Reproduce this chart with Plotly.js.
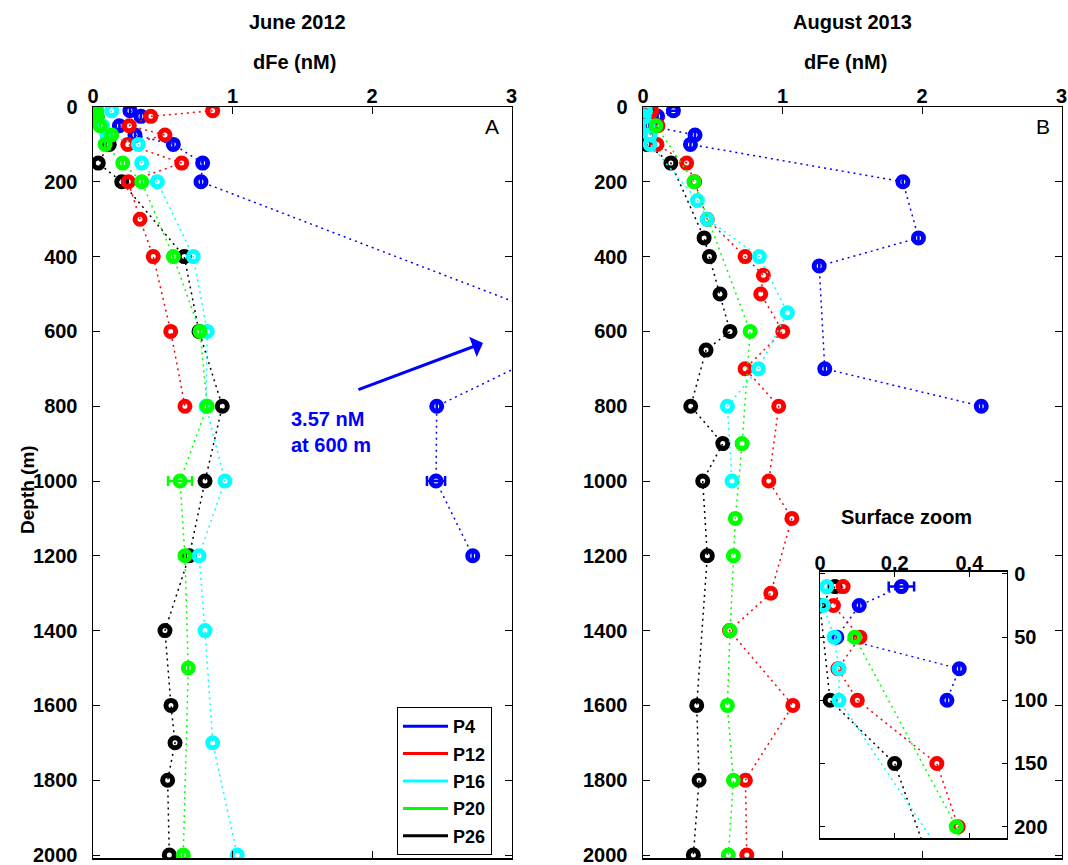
<!DOCTYPE html>
<html>
<head>
<meta charset="utf-8">
<script src="https://cdn.plot.ly/plotly-3.0.1.min.js"></script>
<style>
  html, body { margin: 0; padding: 0; background: #fff; }
  #chart { width: 1068px; height: 865px; }
</style>
</head>
<body>
<div id="chart"></div>
<script>
// ---- Station names and colours ----
const stations = ['P4', 'P12', 'P16', 'P20', 'P26'];
const colors = { P4: '#0000ff', P12: '#ff0000', P16: '#00ffff', P20: '#00ff00', P26: '#000000' };

// ---- June 2012: depth (m) and dissolved Fe (nM) ----
const depthJun_P4  = [10, 25, 50, 75, 100, 150, 200, 600, 800, 1000, 1200];
const feJun_P4     = [0.265, 0.344, 0.189, 0.301, 0.576, 0.786, 0.774, 3.57, 2.464, 2.459, 2.722];
const errJun_P4    = [0, 0, 0, 0, 0, 0, 0, 0, 0, 0.065, 0];

const depthJun_P12 = [10, 25, 50, 75, 100, 150, 200, 300, 400, 600, 800];
const feJun_P12    = [0.858, 0.414, 0.26, 0.516, 0.249, 0.636, 0.253, 0.337, 0.432, 0.557, 0.659];

const depthJun_P16 = [10, 50, 75, 100, 150, 200, 400, 600, 800, 1000, 1200, 1400, 1700, 2000];
const feJun_P16    = [0.134, 0.07, 0.1, 0.325, 0.349, 0.461, 0.719, 0.819, 0.81, 0.946, 0.76, 0.803, 0.858, 1.034];

const depthJun_P20 = [10, 25, 50, 75, 100, 150, 200, 400, 600, 800, 1000, 1200, 1500, 2000];
const feJun_P20    = [0.027, 0.031, 0.05, 0.134, 0.086, 0.213, 0.349, 0.576, 0.767, 0.819, 0.624, 0.659, 0.683, 0.647];
const errJun_P20   = [0, 0, 0, 0, 0, 0, 0, 0, 0, 0, 0.086, 0, 0, 0];

const depthJun_P26 = [10, 25, 50, 100, 150, 200, 400, 600, 800, 1000, 1200, 1400, 1600, 1700, 1800, 2000];
const feJun_P26    = [0.02, 0.03, 0.06, 0.117, 0.038, 0.206, 0.654, 0.76, 0.927, 0.803, 0.69, 0.516, 0.559, 0.588, 0.535, 0.547];

// ---- August 2013: depth (m) and dissolved Fe (nM) ----
const depthAug_P4  = [10, 25, 50, 75, 100, 200, 350, 425, 700, 800];
const feAug_P4     = [0.218, 0.105, 0.045, 0.373, 0.34, 1.863, 1.975, 1.263, 1.303, 2.425];
const errAug_P4    = [0.034, 0, 0, 0, 0, 0, 0, 0, 0, 0];

const depthAug_P12 = [10, 25, 50, 75, 100, 150, 200, 300, 400, 450, 500, 600, 700, 800, 1000, 1100, 1300, 1400, 1600, 1800, 2000];
const feAug_P12    = [0.062, 0.036, 0.107, 0.048, 0.1, 0.313, 0.37, 0.461, 0.732, 0.863, 0.844, 1.002, 0.732, 0.973, 0.902, 1.067, 0.916, 0.62, 1.074, 0.734, 0.744];

const depthAug_P16 = [10, 25, 50, 75, 100, 250, 300, 400, 550, 700, 800, 1000];
const feAug_P16    = [0.018, 0.009, 0.038, 0.051, 0.051, 0.39, 0.46, 0.834, 1.035, 0.827, 0.605, 0.638];

const depthAug_P20 = [50, 200, 600, 900, 1100, 1200, 1400, 1600, 1800, 2000];
const feAug_P20    = [0.093, 0.365, 0.768, 0.71, 0.662, 0.648, 0.624, 0.605, 0.648, 0.612];

const depthAug_P26 = [10, 25, 100, 150, 350, 400, 500, 600, 650, 800, 900, 1000, 1200, 1600, 1800, 2000];
const feAug_P26    = [0.04, 0.0, 0.027, 0.2, 0.438, 0.476, 0.552, 0.624, 0.452, 0.342, 0.572, 0.428, 0.461, 0.385, 0.402, 0.361];

// The surface zoom shows the upper water column; P4 is only shown down to 100 m there
const zoomP4Depth = 100;

// ---- Axis ticks ----
const feTicks = [0, 1, 2, 3];
const depthTicks = [0, 200, 400, 600, 800, 1000, 1200, 1400, 1600, 1800, 2000];
const zoomFeTicks = [0, 0.2, 0.4];
const zoomFeLabels = ['0', '0.2', '0.4'];
const zoomDepthTicks = [0, 50, 100, 150, 200];

// ---- Figure geometry (pixels in a 1068 x 865 page) ----
const W = 1068, H = 865;
const px = v => v / W;
const py = v => 1 - v / H;

const FAMILY = 'Liberation Sans, Arial, sans-serif';
const boldFont = (size, color) => ({ family: FAMILY, size: size, color: color || '#000', weight: 'bold' });
const tickFont = boldFont(20);

function profile(fe, depth, name, xa, ya, err) {
  const t = {
    type: 'scatter', mode: 'lines+markers',
    x: fe, y: depth, xaxis: xa, yaxis: ya,
    name: name, showlegend: false, hoverinfo: 'skip',
    line: { color: colors[name], width: 1.5, dash: '2px,4px' },
    marker: { symbol: 'circle-open', size: 10, color: colors[name], line: { color: colors[name], width: 5 } }
  };
  if (err) {
    t.error_x = { type: 'data', array: err, visible: true, color: colors[name], thickness: 2.5, width: 5 };
  }
  return t;
}

const upTo = (arr, depth, maxDepth) => arr.filter((_, i) => depth[i] <= maxDepth);

const traces = [];
// June 2012 panel (drawing order: P26 first, P20 last)
traces.push(profile(feJun_P26, depthJun_P26, 'P26', 'x', 'y'));
traces.push(profile(feJun_P4,  depthJun_P4,  'P4',  'x', 'y', errJun_P4));
traces.push(profile(feJun_P12, depthJun_P12, 'P12', 'x', 'y'));
traces.push(profile(feJun_P16, depthJun_P16, 'P16', 'x', 'y'));
traces.push(profile(feJun_P20, depthJun_P20, 'P20', 'x', 'y', errJun_P20));
// August 2013 panel
traces.push(profile(feAug_P26, depthAug_P26, 'P26', 'x2', 'y2'));
traces.push(profile(feAug_P4,  depthAug_P4,  'P4',  'x2', 'y2', errAug_P4));
traces.push(profile(feAug_P12, depthAug_P12, 'P12', 'x2', 'y2'));
traces.push(profile(feAug_P16, depthAug_P16, 'P16', 'x2', 'y2'));
traces.push(profile(feAug_P20, depthAug_P20, 'P20', 'x2', 'y2'));
// August 2013 surface zoom
traces.push(profile(feAug_P26, depthAug_P26, 'P26', 'x3', 'y3'));
traces.push(profile(upTo(feAug_P4, depthAug_P4, zoomP4Depth), upTo(depthAug_P4, depthAug_P4, zoomP4Depth), 'P4', 'x3', 'y3',
                    upTo(errAug_P4, depthAug_P4, zoomP4Depth)));
traces.push(profile(feAug_P12, depthAug_P12, 'P12', 'x3', 'y3'));
traces.push(profile(feAug_P16, depthAug_P16, 'P16', 'x3', 'y3'));
traces.push(profile(feAug_P20, depthAug_P20, 'P20', 'x3', 'y3'));
// Legend keys: solid lines, one per station
stations.forEach(s => {
  traces.push({
    type: 'scatter', mode: 'lines', x: [null], y: [null], xaxis: 'x', yaxis: 'y',
    name: s, legendgroup: s, showlegend: true,
    line: { color: colors[s], width: 3 }
  });
});

function axisCommon(extra) {
  return Object.assign({
    showgrid: false, zeroline: false, showline: true, linecolor: '#000', linewidth: 1.5,
    ticks: 'inside', ticklen: 7, tickwidth: 1, tickcolor: '#000', mirror: 'allticks',
    tickfont: tickFont, fixedrange: true, automargin: false, ticklabeloverflow: 'allow'
  }, extra);
}

const yDom = [py(858), py(107)];
const centered = (text, x, y, font, extra) => Object.assign({
  text: text, xref: 'paper', yref: 'paper', x: px(x), y: py(y),
  xanchor: 'center', yanchor: 'middle', showarrow: false, font: font
}, extra || {});

const layout = {
  width: W, height: H,
  margin: { l: 0, r: 0, t: 0, b: 0, autoexpand: false },
  paper_bgcolor: '#fff', plot_bgcolor: '#fff',
  showlegend: true,
  legend: {
    x: px(397), y: py(707), xanchor: 'left', yanchor: 'top',
    bgcolor: '#fff', bordercolor: '#000', borderwidth: 1,
    font: boldFont(18), tracegroupgap: 1, itemwidth: 45
  },
  xaxis: axisCommon({ domain: [px(93), px(511.5)], range: [0, 3], side: 'top', tickvals: feTicks, anchor: 'y', ticklabelstandoff: -5 }),
  yaxis: axisCommon({ domain: yDom, range: [2008, 0], tickvals: depthTicks, anchor: 'x', ticklabelstandoff: 10 }),
  xaxis2: axisCommon({ domain: [px(643), px(1061.5)], range: [0, 3], side: 'top', tickvals: feTicks, anchor: 'y2', ticklabelstandoff: -5 }),
  yaxis2: axisCommon({ domain: yDom, range: [2008, 0], tickvals: depthTicks, anchor: 'x2', ticklabelstandoff: 10 }),
  xaxis3: axisCommon({ domain: [px(820), px(1006.7)], range: [0, 0.5], side: 'top', tickvals: zoomFeTicks, ticktext: zoomFeLabels, anchor: 'y3', ticklen: 5, ticklabelstandoff: -8 }),
  yaxis3: axisCommon({ domain: [py(838), py(571.7)], range: [209, -1.8], side: 'right', tickvals: zoomDepthTicks, anchor: 'x3', ticklen: 5, ticklabelstandoff: 2 }),
  annotations: [
    centered('June 2012', 297, 22, boldFont(20)),
    centered('dFe (nM)', 294, 62, boldFont(20)),
    centered('August 2013', 852, 22, boldFont(20)),
    centered('dFe (nM)', 845, 62, boldFont(20)),
    centered('Depth (m)', 27, 490, boldFont(19), { textangle: -90 }),
    centered('Surface zoom', 906, 517, boldFont(20)),
    centered('A', 492, 127, { family: FAMILY, size: 21, color: '#000' }),
    centered('B', 1043, 127, { family: FAMILY, size: 21, color: '#000' }),
    { text: '3.57 nM<br>at 600 m', xref: 'paper', yref: 'paper', x: px(289), y: py(406), xanchor: 'left', yanchor: 'top', align: 'left', showarrow: false,
      font: boldFont(20, '#0000ff') },
    { text: '', xref: 'x', yref: 'y', x: 2.796, y: 631, axref: 'x', ayref: 'y', ax: 1.892, ay: 757,
      showarrow: true, arrowhead: 1, arrowsize: 1.2, arrowwidth: 3, arrowcolor: '#0000ff', standoff: 0, startstandoff: 0 }
  ]
};

Plotly.newPlot('chart', traces, layout, { displayModeBar: false, staticPlot: true });
</script>
</body>
</html>
